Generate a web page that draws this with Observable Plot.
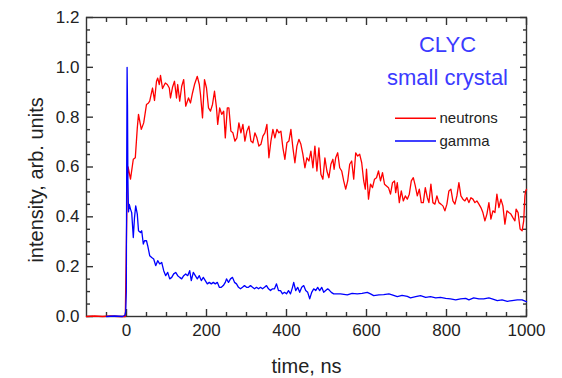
<!DOCTYPE html>
<html><head><meta charset="utf-8">
<script src="https://cdn.jsdelivr.net/npm/d3@7"></script>
<script src="https://cdn.jsdelivr.net/npm/@observablehq/plot@0.6"></script>
<style>body{margin:0;background:#fff}</style>
</head><body><div id="chart"></div>
<script>
const neutronT = [-100,-80,-60,-40,-20,-5,-3,2,4,10,17,22,27,30,37,43,50,55,58,65,70,75,78,82,85,90,97,102,107,110,115,120,125,128,133,138,143,148,155,160,165,170,177,182,185,190,195,200,205,210,215,220,225,228,233,238,243,247,252,256,261,266,271,276,281,286,291,296,301,306,311,316,321,326,331,336,341,346,351,356,361,366,371,376,381,386,391,396,401,406,411,416,421,426,431,436,441,446,451,456,461,466,471,476,481,486,491,496,501,506,511,516,519,523,528,533,538,543,548,553,558,563,568,573,578,583,588,593,597,600,605,610,615,620,625,630,635,640,645,650,655,660,665,670,673,677,682,687,692,697,702,707,712,717,722,727,732,737,742,747,752,756,761,766,771,776,781,786,791,796,801,806,811,816,821,826,831,836,841,846,851,856,861,866,871,876,881,886,891,896,901,906,911,916,921,926,931,936,941,946,951,956,961,966,971,974,979,984,989,993,996,998,1000];
const neutronV = [0,0.002,0,0.002,0,0,0,0.55,0.6,0.551,0.631,0.637,0.757,0.811,0.751,0.777,0.851,0.857,0.864,0.917,0.867,0.944,0.957,0.931,0.968,0.915,0.937,0.931,0.917,0.877,0.92,0.944,0.877,0.931,0.864,0.924,0.951,0.844,0.877,0.857,0.897,0.931,0.964,0.931,0.891,0.797,0.951,0.917,0.837,0.824,0.851,0.904,0.837,0.771,0.837,0.811,0.824,0.717,0.837,0.837,0.744,0.737,0.704,0.717,0.777,0.737,0.771,0.704,0.744,0.764,0.704,0.697,0.737,0.717,0.684,0.691,0.724,0.737,0.771,0.637,0.704,0.751,0.717,0.751,0.737,0.744,0.677,0.631,0.697,0.704,0.751,0.677,0.617,0.684,0.711,0.691,0.651,0.597,0.637,0.624,0.664,0.597,0.684,0.584,0.677,0.571,0.551,0.637,0.584,0.557,0.611,0.631,0.591,0.637,0.657,0.597,0.584,0.544,0.511,0.544,0.611,0.624,0.551,0.657,0.644,0.651,0.617,0.544,0.511,0.591,0.471,0.531,0.517,0.551,0.557,0.584,0.544,0.577,0.531,0.524,0.517,0.491,0.537,0.544,0.497,0.537,0.457,0.504,0.464,0.484,0.471,0.491,0.544,0.557,0.524,0.484,0.511,0.457,0.457,0.517,0.477,0.457,0.531,0.457,0.451,0.484,0.457,0.451,0.444,0.424,0.451,0.504,0.511,0.464,0.451,0.484,0.537,0.484,0.471,0.464,0.477,0.457,0.477,0.471,0.457,0.464,0.451,0.437,0.417,0.384,0.411,0.457,0.391,0.424,0.417,0.491,0.437,0.471,0.444,0.371,0.424,0.417,0.411,0.397,0.384,0.431,0.417,0.351,0.344,0.384,0.484,0.504,0.51];
const gammaT = [-50,-30,-10,-4,-2,-0.5,0.5,1.5,2.5,3.5,5,7,10,13,17,20,23,27,30,35,38,42,45,50,53,58,63,68,73,78,83,88,93,98,103,108,113,118,123,128,133,138,143,148,153,158,162,167,172,177,182,187,192,197,202,207,212,217,222,227,232,237,242,247,250,255,260,265,270,275,280,285,290,295,300,305,310,315,320,325,330,335,340,345,350,355,360,365,370,375,380,385,390,395,400,405,410,415,418,423,428,433,438,443,448,453,458,463,468,473,478,483,488,493,498,503,508,512,518,535,552,564,577,589,602,610,618,631,643,656,664,677,689,702,710,723,735,748,760,773,785,798,810,823,835,848,856,868,881,893,906,914,927,939,952,964,977,989,998,1000];
const gammaV = [0,0.002,0,0.005,0.02,0.1,0.6,1.0,0.85,0.55,0.42,0.45,0.431,0.417,0.317,0.397,0.444,0.411,0.344,0.337,0.344,0.291,0.304,0.304,0.284,0.244,0.237,0.231,0.204,0.224,0.211,0.217,0.184,0.164,0.177,0.151,0.157,0.171,0.177,0.164,0.157,0.151,0.164,0.171,0.164,0.184,0.144,0.177,0.164,0.151,0.164,0.144,0.157,0.144,0.131,0.137,0.131,0.137,0.131,0.137,0.117,0.117,0.124,0.137,0.151,0.137,0.151,0.157,0.137,0.131,0.117,0.111,0.117,0.124,0.117,0.117,0.124,0.117,0.111,0.117,0.111,0.117,0.111,0.117,0.124,0.111,0.104,0.111,0.111,0.131,0.104,0.104,0.091,0.097,0.091,0.104,0.091,0.117,0.137,0.104,0.117,0.097,0.117,0.124,0.104,0.097,0.071,0.097,0.111,0.104,0.117,0.104,0.117,0.097,0.104,0.111,0.104,0.097,0.091,0.091,0.087,0.093,0.091,0.093,0.097,0.091,0.084,0.087,0.088,0.091,0.087,0.08,0.085,0.081,0.075,0.08,0.084,0.077,0.08,0.075,0.077,0.073,0.071,0.067,0.071,0.073,0.067,0.075,0.071,0.071,0.075,0.071,0.064,0.067,0.061,0.064,0.067,0.067,0.061,0.06];
const xTickLabels = [0, 200, 400, 600, 800, 1000];
const yTickLabels = [0, 0.2, 0.4, 0.6, 0.8, 1.0, 1.2];
const xMinorTicks = [-50, 50, 100, 150, 250, 300, 350, 450, 500, 550, 650, 700, 750, 850, 900, 950];
const yMinorTicks = [0.05, 0.1, 0.15, 0.25, 0.3, 0.35, 0.45, 0.5, 0.55, 0.65, 0.7, 0.75, 0.85, 0.9, 0.95, 1.05, 1.1, 1.15];
const seriesNames = ["neutrons", "gamma"];
const seriesColors = ["#ff0000", "#0000ff"];
const annotationLines = ["CLYC", "small crystal"];
const xLabel = "time, ns";
const yLabel = "intensity, arb. units";

const neutrons = neutronT.map((t, i) => ({t, v: neutronV[i]}));
const gamma = gammaT.map((t, i) => ({t, v: gammaV[i]}));
const axisColor = "#333";
const tickStyle = {stroke: axisColor, strokeWidth: 1.4, label: null, tickFormat: () => ""};

const legend = seriesNames.map((name, i) => ({name, color: seriesColors[i], y: [0.796, 0.704][i]}));
const annot = annotationLines.map((s, i) => ({s, y: [1.089, 0.956][i]}));

const chart = Plot.plot({
  width: 562, height: 378,
  marginLeft: 86, marginRight: 36, marginTop: 17, marginBottom: 62,
  x: {domain: [-100, 1000]},
  y: {domain: [0, 1.2]},
  style: {fontFamily: "'Liberation Sans', Arial, sans-serif", background: "#fff"},
  marks: [
    // inward ticks on all four sides (negative tickSize points into the frame)
    Plot.axisX({anchor: "bottom", ticks: xMinorTicks, tickSize: -4, ...tickStyle}),
    Plot.axisX({anchor: "bottom", ticks: xTickLabels, tickSize: -7, ...tickStyle}),
    Plot.axisX({anchor: "top", ticks: xMinorTicks, tickSize: -4, ...tickStyle}),
    Plot.axisX({anchor: "top", ticks: xTickLabels, tickSize: -7, ...tickStyle}),
    Plot.axisY({anchor: "left", ticks: yMinorTicks, tickSize: -4, ...tickStyle}),
    Plot.axisY({anchor: "left", ticks: yTickLabels, tickSize: -7, ...tickStyle}),
    Plot.axisY({anchor: "right", ticks: yMinorTicks, tickSize: -4, ...tickStyle}),
    Plot.axisY({anchor: "right", ticks: yTickLabels, tickSize: -7, ...tickStyle}),
    Plot.frame({stroke: axisColor, strokeWidth: 1.4}),
    // tick labels
    Plot.axisX({anchor: "bottom", ticks: xTickLabels, tickSize: 0, tickPadding: 7, fontSize: 17, tickFormat: d => String(d), label: null, fill: "#222"}),
    Plot.axisY({anchor: "left", ticks: yTickLabels, tickSize: 0, tickPadding: 7, fontSize: 17, tickFormat: d => d.toFixed(1), label: null, fill: "#222"}),
    // data
    Plot.line(neutrons, {x: "t", y: "v", stroke: seriesColors[0], strokeWidth: 1.3}),
    Plot.line(gamma, {x: "t", y: "v", stroke: seriesColors[1], strokeWidth: 1.3}),
    // axis titles
    Plot.text([xLabel], {x: 450, y: -0.2024, fontSize: 20, fill: "#222"}),
    Plot.text([yLabel], {x: -226, y: 0.548, rotate: -90, fontSize: 20, fill: "#222"}),
    // annotation and legend
    Plot.text(annot, {x: 802.5, y: "y", text: "s", fontSize: 22, fill: "#3b3bff"}),
    Plot.ruleY(legend, {y: "y", x1: 672.5, x2: 775, stroke: "color", strokeWidth: 1.5}),
    Plot.text(legend, {x: 782.5, y: "y", text: "name", textAnchor: "start", fontSize: 15, fill: "#222"})
  ]
});
document.getElementById("chart").appendChild(chart);
</script>
</body></html>
